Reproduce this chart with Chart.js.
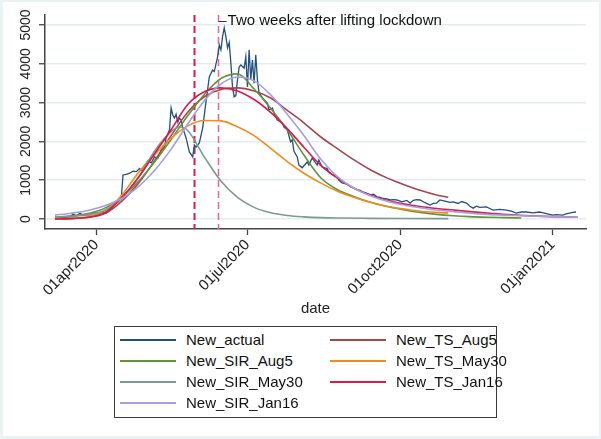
<!DOCTYPE html>
<html>
<head>
<meta charset="utf-8">
<script src="https://cdn.jsdelivr.net/npm/chart.js@4"></script>
<style>
  html, body { margin: 0; padding: 0; }
  body { width: 601px; height: 439px; background: #eaf2f3; position: relative; overflow: hidden;
         font-family: "Liberation Sans", Arial, sans-serif; }
  #paper { position: absolute; left: 3px; top: 2px; width: 596px; height: 434px; background: #fff; }
  #chartBox { position: absolute; left: 0; top: 0; width: 601px; height: 439px; }
  #legend { position: absolute; left: 114px; top: 326px; width: 381px; height: 90px;
            border: 1px solid #3a3a3a; background: #fff; }
  .item { position: absolute; height: 20px; width: 200px; font-size: 15px; color: #111; white-space: nowrap; }
  .swatch { position: absolute; left: 0; top: 9px; width: 56px; height: 0; border-top: 2px solid; }
  .label { position: absolute; left: 66px; top: 0; line-height: 20px; }
</style>
</head>
<body>
<div id="paper"></div>
<div id="chartBox"><canvas id="chart"></canvas></div>
<div id="legend"></div>
<script>
// x values are days since 01mar2020
const tickDays = [31, 122, 214, 306];
const tickLabels = ["01apr2020", "01jul2020", "01oct2020", "01jan2021"];
const yTicks = [0, 1000, 2000, 3000, 4000, 5000];
const lockdownDays = [90, 104]; // 30may2020 and two weeks later
const noteText = "Two weeks after lifting lockdown";

// daily new cases
const actualDays = [6,9,12,15,17,19,21,23,25,27,29,32,34,37,39,41,44,46,47,49,51,53,55,57,58,60,62,64,66,68,70,72,73,75,76,77,78,79,80,81,82,83,85,87,89,90,91,93,95,97,99,101,102,104,105,106,107,108,109,110,111,112,113,114,115,116,117,118,120,121,122,123,124,125,126,127,128,129,131,134,135,137,138,140,143,144,146,148,149,150,152,153,155,158,159,161,164,165,167,170,171,173,176,177,179,182,184,186,188,190,191,194,196,198,200,202,203,206,208,210,212,214,215,218,220,222,224,226,229,232,234,236,238,241,244,246,249,251,254,256,258,260,262,266,268,270,274,278,281,284,287,290,294,298,301,304,306,308,312,314,316,318,320];
const actualVals = [0,20,40,60,130,70,150,90,110,100,170,130,170,150,230,330,460,560,1135,1150,1180,1230,1220,1300,1250,1380,1500,1450,1600,1560,1780,1850,2090,2300,2860,2680,2600,2700,2500,2600,2550,2350,2090,1730,1600,1910,1850,1960,2350,3020,3660,3840,3800,4180,4490,4360,4700,4930,4700,4410,4550,4020,3400,3150,3180,3590,3920,3970,3890,4180,3400,4360,3590,4100,3500,4230,3590,3250,3120,2990,2810,2860,2730,2550,2480,2370,2300,1990,2040,1750,1600,1390,1320,1470,1390,1570,1390,1520,1340,1300,1210,1150,1090,1000,930,900,830,800,750,740,700,660,620,640,570,560,540,520,490,500,490,460,440,480,410,480,500,490,420,360,400,410,490,460,430,440,400,450,410,330,280,330,300,310,270,230,250,230,200,150,180,180,160,180,150,120,100,110,100,130,150,170,180];

// model curves, sampled every ten days
const fullDays = [6,16,26,36,46,56,66,76,86,96,106,116,126,136,146,156,166,176,186,196,206,216,226,236,246,256,266,276,286,296,306,316,321];
const tsJan16 = [0,15,45,160,540,1050,1680,2300,2950,3280,3380,3300,3080,2750,2330,1850,1390,1060,800,620,480,390,320,270,230,190,150,120,95,75,60,50,45];
const sirJan16 = [100,150,220,340,520,820,1250,1800,2450,3050,3480,3660,3560,3200,2700,2150,1550,1100,800,600,460,360,290,230,190,150,120,100,85,70,60,50,45];

const shortDays = [6,16,26,36,46,56,66,76,86,96,106,116,126,136,146,156,166,176,186,196,206,216,226,236,243];
const tsAug5 = [0,10,40,140,450,900,1500,2150,2750,3150,3340,3380,3300,3120,2800,2480,2120,1820,1530,1270,1060,890,740,620,560];
const tsMay30 = [0,15,60,220,600,1180,1660,2080,2400,2540,2530,2380,2150,1820,1480,1180,930,720,560,430,330,260,200,170,150];

const sirMay30Days = [6,16,26,36,46,56,66,76,81,86,96,106,116,126,136,146,156,166,176,196,216,243];
const sirMay30 = [40,70,110,220,520,1050,1750,2250,2370,2280,1600,980,560,300,160,90,55,35,25,17,13,10];

const augDays = [6,16,26,36,46,56,66,76,86,96,106,116,126,136,146,156,166,176,186,196,206,216,226,236,246,256,266,276,287];
const sirAug5 = [50,80,140,280,560,950,1470,2050,2660,3210,3620,3740,3350,2850,2300,1650,1070,760,580,430,320,240,170,120,85,60,45,35,25];

function pts(days, vals) {
  return days.map((d, i) => ({ x: d, y: vals[i] }));
}

// same order as the stata legend, later ones drawn on top
const series = [
  { label: "New_actual",    data: pts(actualDays, actualVals), color: "#24507e", smooth: false },
  { label: "New_TS_Aug5",   data: pts(shortDays, tsAug5),      color: "#a4464e", smooth: true },
  { label: "New_SIR_Aug5",  data: pts(augDays, sirAug5),       color: "#64923e", smooth: true },
  { label: "New_TS_May30",  data: pts(shortDays, tsMay30),     color: "#f08c1c", smooth: true },
  { label: "New_SIR_May30", data: pts(sirMay30Days, sirMay30), color: "#7a9c8c", smooth: true },
  { label: "New_TS_Jan16",  data: pts(fullDays, tsJan16),      color: "#d81b4d", smooth: true },
  { label: "New_SIR_Jan16", data: pts(fullDays, sirJan16),     color: "#a59fe0", smooth: true }
];

const lockdownPlugin = {
  id: "lockdown",
  beforeDatasetsDraw(chart) {
    const { ctx, chartArea, scales: { x } } = chart;
    ctx.save();
    lockdownDays.forEach((d, i) => {
      const px = Math.round(x.getPixelForValue(d)) + 0.5;
      ctx.strokeStyle = i === 0 ? "#d41f4c" : "#e9668a";
      ctx.lineWidth = i === 0 ? 2 : 1.5;
      ctx.setLineDash([7, 4]);
      ctx.beginPath();
      ctx.moveTo(px, chartArea.top);
      ctx.lineTo(px, chartArea.bottom);
      ctx.stroke();
    });
    ctx.restore();
  },
  afterDraw(chart) {
    const { ctx, scales: { x } } = chart;
    const px = x.getPixelForValue(lockdownDays[1]);
    ctx.save();
    ctx.strokeStyle = "#333";
    ctx.lineWidth = 1;
    ctx.beginPath();
    ctx.moveTo(px + 1, 21.5);
    ctx.lineTo(px + 9, 21.5);
    ctx.stroke();
    ctx.fillStyle = "#111";
    ctx.font = "15px 'Liberation Sans', Arial, sans-serif";
    ctx.textBaseline = "middle";
    ctx.fillText(noteText, px + 10, 21);
    ctx.restore();
  }
};

Chart.defaults.font.family = "'Liberation Sans', Arial, sans-serif";
Chart.defaults.color = "#222";

const chart = new Chart(document.getElementById("chart"), {
  type: "line",
  data: {
    datasets: series.map((s, i) => ({
      label: s.label,
      data: s.data,
      borderColor: s.color,
      backgroundColor: s.color,
      borderWidth: s.smooth ? 1.6 : 1.3,
      pointRadius: 0,
      fill: false,
      cubicInterpolationMode: s.smooth ? "monotone" : "default",
      tension: 0,
      order: series.length - i
    }))
  },
  options: {
    responsive: true,
    maintainAspectRatio: false,
    animation: false,
    devicePixelRatio: 1,
    layout: { padding: { top: 15, right: 15, bottom: 117, left: 0 } },
    plugins: { legend: { display: false }, tooltip: { enabled: false } },
    scales: {
      x: {
        type: "linear",
        min: 0,
        max: 326,
        afterBuildTicks: s => { s.ticks = tickDays.map(v => ({ value: v })); },
        afterFit: s => { s.height = 93; },
        ticks: {
          minRotation: 45, maxRotation: 45, padding: 1,
          font: { size: 15 }, color: "#222",
          callback: (v, i) => tickLabels[i]
        },
        grid: { drawOnChartArea: false, tickLength: 6, tickColor: "#444", tickWidth: 1.3 },
        border: { color: "#444", width: 1.5 },
        title: { display: true, text: "date", font: { size: 15 }, color: "#222", padding: { top: 0, bottom: 4 } }
      },
      y: {
        min: -258,
        max: 5258,
        afterBuildTicks: s => { s.ticks = yTicks.map(v => ({ value: v })); },
        afterFit: s => { s.width = 45; },
        ticks: {
          minRotation: 90, maxRotation: 90, crossAlign: "center", padding: -3,
          font: { size: 14 }, color: "#222",
          callback: v => String(v)
        },
        grid: { color: "#e3edf0", lineWidth: 1.5, tickLength: 6, tickColor: "#444", tickWidth: 1.3 },
        border: { color: "#444", width: 1.5 }
      }
    }
  },
  plugins: [lockdownPlugin]
});

// two-column legend like the original
const legendBox = document.getElementById("legend");
chart.data.datasets.forEach((ds, i) => {
  const col = i % 2, row = Math.floor(i / 2);
  const item = document.createElement("div");
  item.className = "item";
  item.style.left = (col === 0 ? 5 : 215) + "px";
  item.style.top = (3 + row * 21) + "px";
  const sw = document.createElement("div");
  sw.className = "swatch";
  sw.style.borderTopColor = ds.borderColor;
  const lab = document.createElement("span");
  lab.className = "label";
  lab.textContent = ds.label;
  item.appendChild(sw);
  item.appendChild(lab);
  legendBox.appendChild(item);
});
</script>
</body>
</html>
